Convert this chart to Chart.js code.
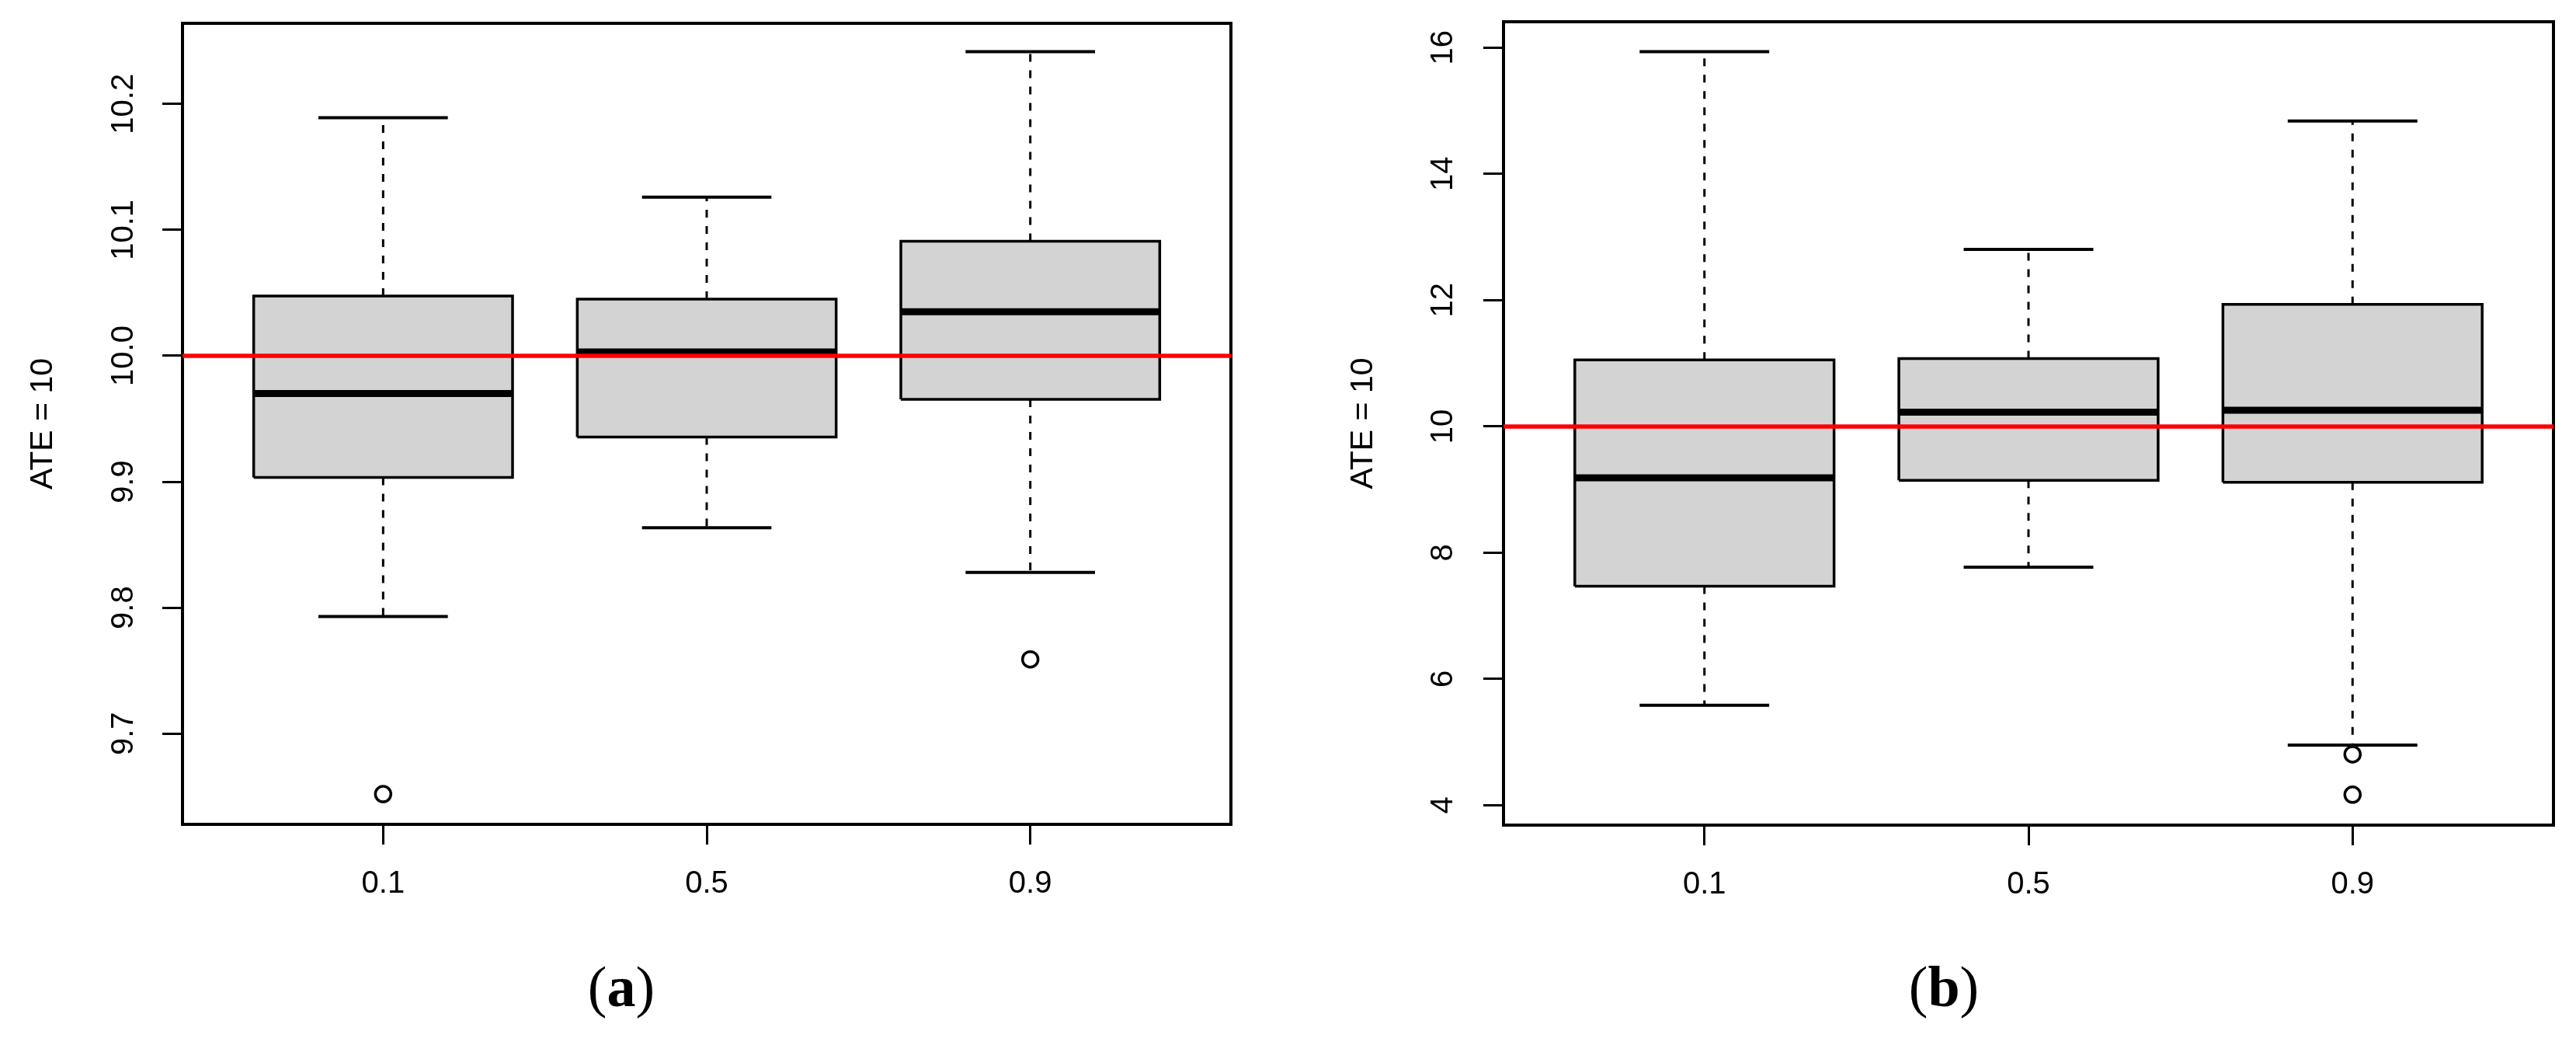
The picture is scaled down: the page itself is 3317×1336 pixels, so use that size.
<!DOCTYPE html>
<html>
<head>
<meta charset="utf-8">
<script src="https://cdn.jsdelivr.net/npm/chart.js"></script>
<style>
  html, body { margin: 0; padding: 0; background: #fff; }
  #wrap { position: relative; width: 3317px; height: 1336px; background: #fff; overflow: hidden; }
  canvas { position: absolute; top: 0; }
  .panel-label {
    position: absolute; top: 1233px; width: 400px; text-align: center;
    font-family: 'Liberation Serif', 'Times New Roman', serif; font-size: 74px; line-height: 74px; color: #000;
  }
  .panel-label b { font-weight: bold; }
</style>
</head>
<body>
<div id="wrap">
  <canvas id="chartA" width="1660" height="1200" style="left:0px"></canvas>
  <canvas id="chartB" width="1657" height="1200" style="left:1660px"></canvas>
  <div class="panel-label" style="left:600px">(<b>a</b>)</div>
  <div class="panel-label" style="left:2303px">(<b>b</b>)</div>
</div>
<script>
// categories (x positions 1..3 on the R boxplot axis)
const categories = ['0.1', '0.5', '0.9'];
const catPos = [1, 2, 3];
const yTitle = 'ATE = 10';
const refLine = 10;

// panel (a)
const lowA  = [9.793, 9.8635, 9.828];
const q1A   = [9.9035, 9.9355, 9.9655];
const medA  = [9.970, 10.003, 10.035];
const q3A   = [10.0475, 10.045, 10.091];
const highA = [10.189, 10.126, 10.2415];
const outA  = [[9.652], [], [9.759]];
const yTicksA = [9.7, 9.8, 9.9, 10.0, 10.1, 10.2];
const yTickLabelsA = ['9.7', '9.8', '9.9', '10.0', '10.1', '10.2'];

// panel (b)
const lowB  = [5.583, 7.773, 4.954];
const q1B   = [7.469, 9.146, 9.115];
const medB  = [9.188, 10.226, 10.257];
const q3B   = [11.053, 11.074, 11.934];
const highB = [15.937, 12.804, 14.837];
const outB  = [[], [], [4.807, 4.168]];
const yTicksB = [4, 6, 8, 10, 12, 14, 16];
const yTickLabelsB = ['4', '6', '8', '10', '12', '14', '16'];

const X_MIN = 0.38, X_MAX = 3.62;
const BOX_HALF = 0.4, CAP_HALF = 0.2;
const FONT = "'Liberation Sans', Arial, Helvetica, sans-serif";

function buildDatasets(low, q1, med, q3, high, outs) {
    const ds = [];
    const base = { xAxisID: 'x', yAxisID: 'y', pointRadius: 0, tension: 0, fill: false };

    // reference line on top
    ds.push({ ...base, data: [{x: X_MIN, y: refLine}, {x: X_MAX, y: refLine}],
        borderColor: '#ff0000', borderWidth: 5.5, order: 1 });

    catPos.forEach((c, i) => {
        // box
        ds.push({ ...base,
            data: [{x: c - BOX_HALF, y: q1[i]}, {x: c + BOX_HALF, y: q1[i]},
                   {x: c + BOX_HALF, y: q3[i]}, {x: c - BOX_HALF, y: q3[i]},
                   {x: c - BOX_HALF, y: q1[i]}],
            fill: 'shape', backgroundColor: '#d3d3d3', borderColor: '#000',
            borderWidth: 3.5, borderJoinStyle: 'miter', order: 6 });
        // median
        ds.push({ ...base, data: [{x: c - BOX_HALF, y: med[i]}, {x: c + BOX_HALF, y: med[i]}],
            borderColor: '#000', borderWidth: 9, borderCapStyle: 'butt', order: 3 });
        // whiskers (dashed)
        ds.push({ ...base, data: [{x: c, y: q3[i]}, {x: c, y: high[i]}],
            borderColor: '#000', borderWidth: 3, borderDash: [10, 11], order: 7 });
        ds.push({ ...base, data: [{x: c, y: q1[i]}, {x: c, y: low[i]}],
            borderColor: '#000', borderWidth: 3, borderDash: [10, 11], order: 7 });
        // caps
        ds.push({ ...base, data: [{x: c - CAP_HALF, y: high[i]}, {x: c + CAP_HALF, y: high[i]}],
            borderColor: '#000', borderWidth: 4, order: 4 });
        ds.push({ ...base, data: [{x: c - CAP_HALF, y: low[i]}, {x: c + CAP_HALF, y: low[i]}],
            borderColor: '#000', borderWidth: 4, order: 4 });
        // outliers
        if (outs[i].length) {
            ds.push({ ...base, showLine: false,
                data: outs[i].map(v => ({x: c, y: v})),
                pointRadius: 10, pointBorderWidth: 3.5, pointBorderColor: '#000',
                pointBackgroundColor: 'rgba(0,0,0,0)', order: 2 });
        }
    });
    return ds;
}

function makePanel(id, cfg) {
    const ctx = document.getElementById(id).getContext('2d');
    const tickFont = { family: FONT, size: 40 };
    return new Chart(ctx, {
        type: 'line',
        data: { datasets: buildDatasets(cfg.low, cfg.q1, cfg.med, cfg.q3, cfg.high, cfg.outs) },
        options: {
            responsive: false,
            animation: false,
            devicePixelRatio: 1,
            layout: { padding: { top: cfg.padTop, right: cfg.padRight, left: 0, bottom: 0 } },
            plugins: { legend: { display: false }, tooltip: { enabled: false } },
            scales: {
                x: {
                    type: 'linear', position: 'bottom', min: X_MIN, max: X_MAX,
                    afterBuildTicks: s => { s.ticks = catPos.map(v => ({ value: v })); },
                    afterFit: s => { s.height = cfg.xAxisH; s.paddingLeft = 0; s.paddingRight = 0; },
                    ticks: { callback: (v, i) => categories[i], font: tickFont, color: '#000',
                             padding: 27, maxRotation: 0, minRotation: 0, autoSkip: false },
                    grid: { drawOnChartArea: false, drawTicks: true, tickLength: 26, lineWidth: 3, color: '#000' },
                    border: { display: true, color: '#000', width: 4 }
                },
                y: {
                    type: 'linear', position: 'left', min: cfg.yMin, max: cfg.yMax,
                    afterBuildTicks: s => { s.ticks = cfg.yTicks.map(v => ({ value: v })); },
                    afterFit: s => { s.width = cfg.yAxisW; s.paddingTop = 0; s.paddingBottom = 0; },
                    ticks: { callback: (v, i) => cfg.yTickLabels[i], font: tickFont, color: '#000',
                             padding: cfg.yTickPad, minRotation: 90, maxRotation: 90,
                             crossAlign: 'center', autoSkip: false },
                    grid: { drawOnChartArea: false, drawTicks: true, tickLength: 26, lineWidth: 3, color: '#000' },
                    border: { display: true, color: '#000', width: 4 },
                    title: { display: true, text: yTitle, color: '#000',
                             font: { family: FONT, size: 41 }, padding: { top: cfg.titlePad, bottom: 0 } }
                },
                x2: {
                    type: 'linear', position: 'top', min: X_MIN, max: X_MAX,
                    afterFit: s => { s.height = 0; s.paddingLeft = 0; s.paddingRight = 0; },
                    ticks: { display: false }, grid: { display: false, drawTicks: false },
                    border: { display: true, color: '#000', width: 4 }
                },
                y2: {
                    type: 'linear', position: 'right', min: cfg.yMin, max: cfg.yMax,
                    afterFit: s => { s.width = 0; s.paddingTop = 0; s.paddingBottom = 0; },
                    ticks: { display: false }, grid: { display: false, drawTicks: false },
                    border: { display: true, color: '#000', width: 4 }
                }
            }
        }
    });
}

makePanel('chartA', {
    low: lowA, q1: q1A, med: medA, q3: q3A, high: highA, outs: outA,
    yTicks: yTicksA, yTickLabels: yTickLabelsA, yMin: 9.628, yMax: 10.264,
    padTop: 30, padRight: 75, yAxisW: 235, xAxisH: 139, yTickPad: 10, titlePad: 31
});

makePanel('chartB', {
    low: lowB, q1: q1B, med: medB, q3: q3B, high: highB, outs: outB,
    yTicks: yTicksB, yTickLabels: yTickLabelsB, yMin: 3.686, yMax: 16.41,
    padTop: 28, padRight: 29, yAxisW: 276, xAxisH: 138, yTickPad: 29, titlePad: 71
});
</script>
</body>
</html>
